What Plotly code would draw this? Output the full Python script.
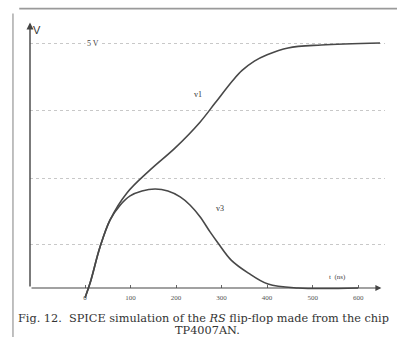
import plotly.graph_objects as go

# data (t in ns, v in volts-ish scale of the figure)
t_v1 = [0, 11, 33, 55, 92, 143, 198, 253, 286, 325, 345, 372, 400, 446, 519, 648]
v1 = [-0.2, 0.10, 0.84, 1.39, 1.94, 2.41, 2.86, 3.39, 3.78, 4.24, 4.44, 4.63, 4.76, 4.90, 4.96, 5.0]
t_v3 = [0, 11, 33, 55, 77, 99, 125, 154, 182, 209, 231, 253, 275, 292, 321, 358, 402, 468, 600]
v3 = [-0.2, 0.10, 0.84, 1.39, 1.69, 1.88, 1.98, 2.02, 1.98, 1.86, 1.69, 1.45, 1.14, 0.92, 0.57, 0.31, 0.08, 0.0, 0.0]
x_ticks = [0, 100, 200, 300, 400, 500, 600]
x_tick_labels = ["0", "100", "200", "300", "400", "500", "600"]
grid_levels = [0.88, 2.24, 3.63, 5.0]

XMIN, XMAX = -121, 659
YMIN, YMAX = -0.347, 5.47
curve_color = "#484848"

fig = go.Figure()
fig.add_trace(go.Scatter(x=t_v1, y=v1, mode="lines", line=dict(color=curve_color, width=1.6, shape="spline"),
                         hoverinfo="skip", showlegend=False))
fig.add_trace(go.Scatter(x=t_v3, y=v3, mode="lines", line=dict(color=curve_color, width=1.6, shape="spline"),
                         hoverinfo="skip", showlegend=False))

pos = (0 - YMIN) / (YMAX - YMIN)
fig.update_layout(
    width=398, height=338,
    margin=dict(l=30, r=13, t=20, b=33),
    paper_bgcolor="white", plot_bgcolor="white",
    font=dict(family="Liberation Serif", color="#444", size=9),
    xaxis=dict(range=[XMIN, XMAX], tickvals=x_ticks, ticktext=x_tick_labels,
               anchor="free", position=pos, showline=False, showgrid=False, zeroline=False,
               ticks="inside", ticklen=3, tickcolor="#666", ticklabelstandoff=4,
               tickfont=dict(size=7, color="#555")),
    yaxis=dict(range=[YMIN, YMAX], tickvals=grid_levels, showticklabels=False, ticks="",
               showgrid=True, gridcolor="#c8c8c8", griddash="dot", gridwidth=1, zeroline=False,
               showline=False),
    showlegend=False,
)

# axes with arrow heads
fig.add_annotation(x=XMAX - 8, y=0, ax=XMIN, ay=0, xref="x", yref="y", axref="x", ayref="y",
                   text="", showarrow=True, arrowhead=2, arrowsize=1, arrowwidth=1.2, arrowcolor="#444")
fig.add_annotation(x=XMIN, y=YMAX - 0.05, ax=XMIN, ay=0, xref="x", yref="y", axref="x", ayref="y",
                   text="", showarrow=True, arrowhead=2, arrowsize=1, arrowwidth=1.4, arrowcolor="#444")

# labels
fig.add_annotation(x=-106, y=5.27, text="V", showarrow=False, font=dict(size=11, color="#333", family="Liberation Sans"))
fig.add_annotation(x=18, y=5.0, text="5 V", showarrow=False, bgcolor="white", font=dict(size=8, color="#444"))
fig.add_annotation(x=248, y=3.94, text="v1", showarrow=False, font=dict(size=8, color="#333"))
fig.add_annotation(x=297, y=1.63, text="v3", showarrow=False, font=dict(size=8, color="#333"))
fig.add_annotation(x=554, y=0.22, text="t  (ns)", showarrow=False, font=dict(size=7, color="#444"))

# caption
cap_font = dict(size=11.3, color="#333", family="DejaVu Serif")
fig.add_annotation(xref="paper", yref="paper", x=0.49, y=-0.018, xanchor="center", yanchor="top",
                   text="Fig. 12.  SPICE simulation of the <i>RS</i> flip-flop made from the chip",
                   showarrow=False, font=cap_font)
fig.add_annotation(xref="paper", yref="paper", x=0.5, y=-0.058, xanchor="center", yanchor="top",
                   text="TP4007AN.", showarrow=False, font=cap_font)

# scan frame (top and left edges), drawn as arrow-less annotation lines
fig.add_annotation(xref="paper", yref="paper", x=1.05, y=1.04, ax=-385, ay=0, axref="pixel", ayref="pixel",
                   text="", showarrow=True, arrowhead=0, arrowwidth=1.6, arrowcolor="#9a9a9a")
fig.add_annotation(xref="paper", yref="paper", x=-0.048, y=-0.13, ax=0, ay=-330, axref="pixel", ayref="pixel",
                   text="", showarrow=True, arrowhead=0, arrowwidth=1.6, arrowcolor="#b0b0b0")

fig.write_html("out.html", config={"displayModeBar": False},
               post_script="document.body.style.margin='0';")
